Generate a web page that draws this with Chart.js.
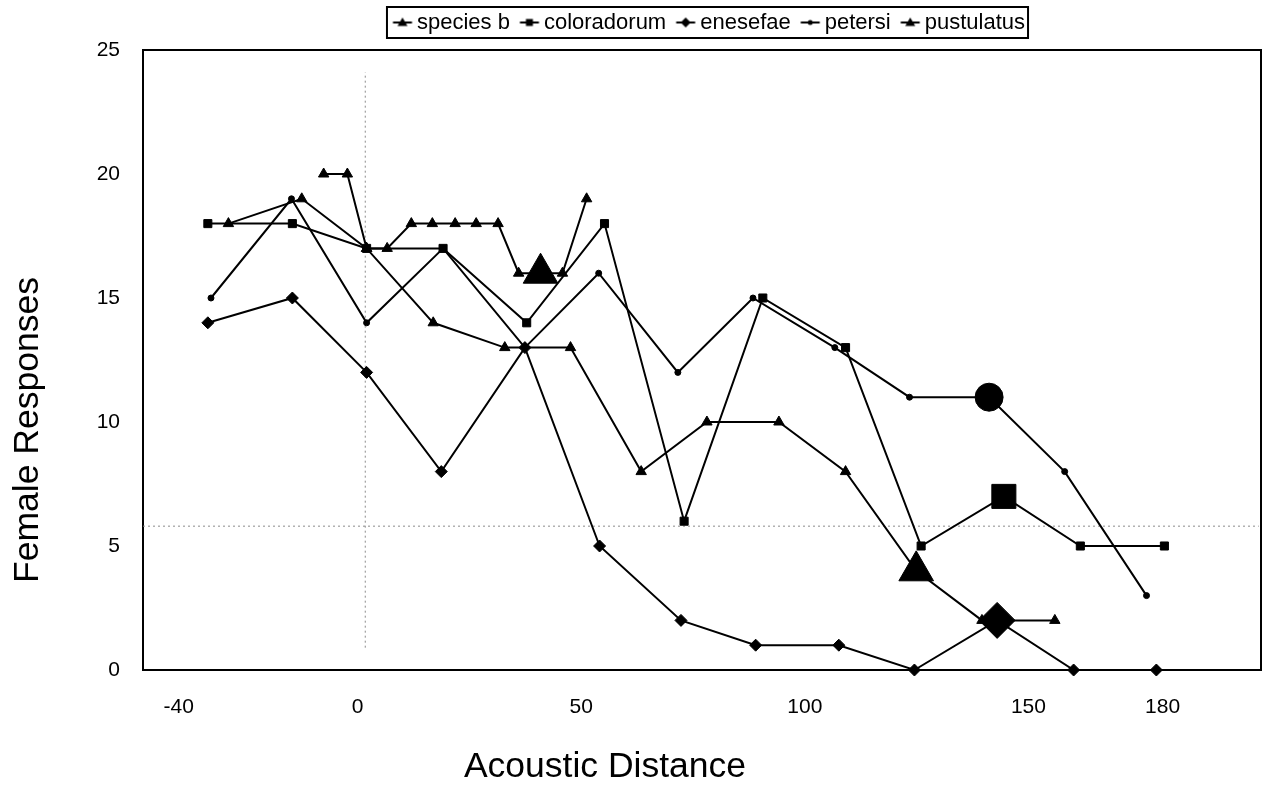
<!DOCTYPE html>
<html>
<head>
<meta charset="utf-8">
<script src="https://cdn.jsdelivr.net/npm/chart.js@4.4.1/dist/chart.umd.min.js"></script>
<style>
html,body{margin:0;padding:0;background:#fff;}
#wrap{width:1268px;height:786px;position:relative;}
</style>
</head>
<body>
<div id="wrap"><canvas id="c" width="1268" height="786"></canvas></div>
<script>
// ---------------- data ----------------
const seriesNames = ['species b', 'coloradorum', 'enesefae', 'petersi', 'pustulatus'];

const speciesBX = [-28.9, -12.5, 2.0, 16.9, 32.9, 47.6, 63.4, 78.1, 94.2, 109.1, 124.9, 139.6, 155.9];
const speciesBY = [18, 19, 17, 14, 13, 13, 8, 10, 10, 8, 4, 2, 2];

const coloradorumX = [-33.5, -14.6, 2.0, 19.1, 37.8, 55.2, 73.0, 90.6, 109.1, 126.0, 144.5, 161.6, 180.4];
const coloradorumY = [18, 18, 17, 17, 14, 18, 6, 15, 13, 5, 7, 5, 5];

const enesefaeX = [-33.5, -14.6, 2.0, 18.7, 37.4, 54.1, 72.3, 89.0, 107.6, 124.5, 143.0, 160.1, 178.6];
const enesefaeY = [14, 15, 12, 8, 13, 5, 2, 1, 1, 0, 2, 0, 0];

const petersiX = [-32.8, -14.8, 2.0, 19.1, 37.4, 53.9, 71.6, 88.4, 106.7, 123.4, 141.2, 158.1, 176.4];
const petersiY = [15, 19, 14, 17, 13, 16, 12, 15, 13, 11, 11, 8, 3];

const pustulatusX = [-7.6, -2.3, 2.0, 6.6, 12.0, 16.7, 21.8, 26.5, 31.4, 36.0, 40.9, 45.8, 51.2];
const pustulatusY = [20, 20, 17, 17, 18, 18, 18, 18, 18, 16, 16, 16, 19];

// highlighted (large-marker) point of each series
const highlightIndex = [10, 10, 10, 10, 10];

// dotted reference lines
const refVX = [1.7, 1.7];
const refVY = [0.9, 24.1];
const refHX = [-48, 201.5];
const refHY = [5.8, 5.8];

const xTicks = [-40, 0, 50, 100, 150, 180];
const yMin = 0, yMax = 25, yStep = 5;
const xMin = -48, xMax = 202;

const xTitle = 'Acoustic Distance';
const yTitle = 'Female Responses';

// ---------------- styles ----------------
const FONT = "'Liberation Sans', Arial, Helvetica, sans-serif";
const pointStyles = ['triangle', 'rect', 'rectRot', 'circle', 'triangle'];
const smallR = [6, 5.7, 6, 3, 6];
const bigR = [20, 17, 18, 14, 20];
const LEGEND_SHIFT = 7;

function pts(xs, ys) { return xs.map((x, i) => ({ x: x, y: ys[i] })); }

const seriesX = [speciesBX, coloradorumX, enesefaeX, petersiX, pustulatusX];
const seriesY = [speciesBY, coloradorumY, enesefaeY, petersiY, pustulatusY];

const datasets = seriesNames.map((name, k) => ({
  label: name,
  data: pts(seriesX[k], seriesY[k]),
  borderColor: '#000',
  backgroundColor: '#000',
  borderWidth: 2,
  pointStyle: pointStyles[k],
  pointRadius: c => c.dataIndex === highlightIndex[k] ? bigR[k] : smallR[k],
  pointBackgroundColor: '#000',
  pointBorderColor: '#000',
  pointBorderWidth: 1,
  tension: 0,
  clip: false
}));
datasets.push({
  label: 'refV', data: pts(refVX, refVY), borderColor: '#8a8a8a', borderWidth: 1,
  borderDash: [2, 3], pointRadius: 0, tension: 0
});
datasets.push({
  label: 'refH', data: pts(refHX, refHY), borderColor: '#8a8a8a', borderWidth: 1,
  borderDash: [2, 3], pointRadius: 0, tension: 0
});

// legend icons: short line with marker, drawn on small canvases
function makeIcon(style) {
  const c = document.createElement('canvas');
  c.width = 44; c.height = 16;
  const g = c.getContext('2d');
  g.strokeStyle = '#000'; g.fillStyle = '#000'; g.lineWidth = 2;
  const x0 = 15.5, x1 = 34.5, cx = 25, cy = 8;
  g.beginPath(); g.moveTo(x0, cy); g.lineTo(x1, cy); g.stroke();
  g.beginPath();
  if (style === 'triangle') {
    g.moveTo(cx, cy - 5); g.lineTo(cx + 5, cy + 3.5); g.lineTo(cx - 5, cy + 3.5); g.closePath();
  } else if (style === 'rect') {
    g.rect(cx - 3.5, cy - 3.5, 7, 7);
  } else if (style === 'rectRot') {
    g.moveTo(cx, cy - 5); g.lineTo(cx + 5, cy); g.lineTo(cx, cy + 5); g.lineTo(cx - 5, cy); g.closePath();
  } else {
    g.arc(cx, cy, 2.5, 0, Math.PI * 2);
  }
  g.fill();
  return c;
}
const icons = pointStyles.map(makeIcon);

const decorPlugin = {
  id: 'decor',
  afterLayout(chart) {
    const lg = chart.legend;
    if (lg) { lg.left += LEGEND_SHIFT; lg.right += LEGEND_SHIFT; }
  },
  beforeDatasetsDraw(chart) {
    const { ctx, chartArea: a } = chart;
    ctx.save();
    ctx.strokeStyle = '#000';
    ctx.lineWidth = 2;
    ctx.strokeRect(a.left, a.top, a.right - a.left, a.bottom - a.top);
    ctx.restore();
  },
  afterDraw(chart) {
    const { ctx, chartArea: a } = chart;
    // legend frame
    const hb = chart.legend.legendHitBoxes;
    if (hb && hb.length) {
      const first = hb[0], last = hb[hb.length - 1];
      const cy = first.top + first.height / 2;
      ctx.save();
      ctx.strokeStyle = '#000';
      ctx.lineWidth = 2;
      ctx.strokeRect(first.left - 6, cy - 15.5, (last.left + last.width + 3) - (first.left - 6), 31);
      ctx.restore();
    }
    // axis titles
    ctx.save();
    ctx.fillStyle = '#000';
    ctx.font = '35.5px ' + FONT;
    ctx.textAlign = 'center';
    ctx.textBaseline = 'middle';
    ctx.fillText(xTitle, a.left + 462, a.bottom + 97);
    ctx.translate(28, a.top + 380);
    ctx.rotate(-Math.PI / 2);
    ctx.fillText(yTitle, 0, 0);
    ctx.restore();
  }
};

Chart.defaults.font.family = FONT;
Chart.defaults.color = '#000';

new Chart(document.getElementById('c'), {
  type: 'line',
  data: { datasets: datasets },
  options: {
    responsive: false,
    animation: false,
    devicePixelRatio: 1,
    events: [],
    layout: { padding: { top: 1.5, left: 0, right: 2, bottom: 0 } },
    plugins: {
      tooltip: { enabled: false },
      legend: {
        display: true,
        position: 'top',
        fullSize: false,
        labels: {
          usePointStyle: true,
          pointStyleWidth: 13,
          padding: 10,
          color: '#000',
          font: { size: 22, family: FONT },
          generateLabels(chart) {
            const items = Chart.defaults.plugins.legend.labels.generateLabels(chart);
            return items.filter(it => it.datasetIndex < seriesNames.length)
                        .map(it => Object.assign(it, { pointStyle: icons[it.datasetIndex] }));
          }
        }
      }
    },
    scales: {
      x: {
        type: 'linear',
        position: 'bottom',
        min: xMin, max: xMax,
        afterBuildTicks: s => { s.ticks = xTicks.map(v => ({ value: v })); },
        afterFit: s => { s.height = 116; },
        grid: { display: false, drawTicks: false },
        border: { display: false },
        ticks: {
          autoSkip: false, maxRotation: 0, padding: 25,
          font: { size: 21, family: FONT }, color: '#000',
          callback: v => String(v)
        }
      },
      xTop: {
        type: 'linear',
        position: 'top',
        display: true,
        afterFit: s => { s.height = 6.5; },
        grid: { display: false, drawTicks: false },
        border: { display: false },
        ticks: { display: false }
      },
      y: {
        type: 'linear',
        min: yMin, max: yMax,
        afterFit: s => { s.width = 143; },
        grid: { display: false, drawTicks: false },
        border: { display: false },
        ticks: {
          stepSize: yStep, padding: 23,
          font: { size: 21, family: FONT }, color: '#000'
        }
      }
    }
  },
  plugins: [decorPlugin]
});
</script>
</body>
</html>
